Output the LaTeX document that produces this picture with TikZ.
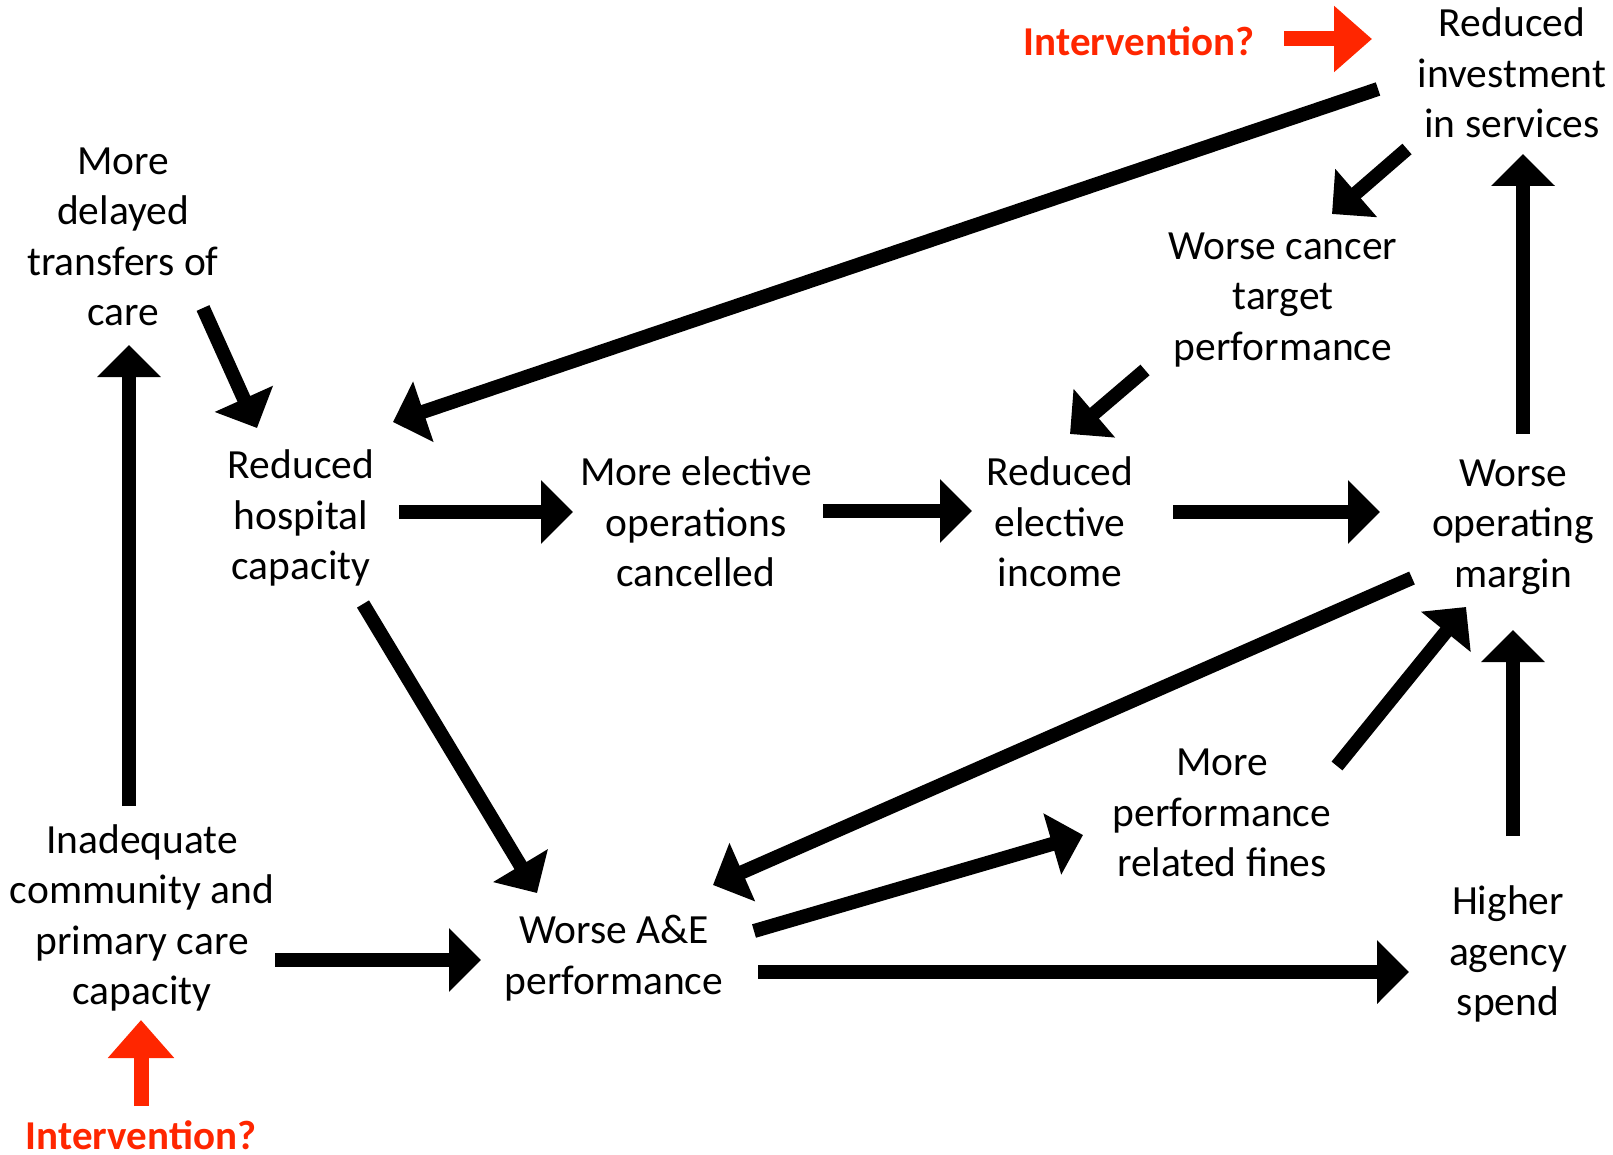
\documentclass[tikz,border=0pt]{standalone}
\usepackage{fontspec}
\setmainfont{Carlito}
\usetikzlibrary{arrows.meta}
\definecolor{intred}{RGB}{255,38,0}
\begin{document}
\begin{tikzpicture}[x=1pt,y=-1pt,
  lbl/.style={align=center,inner sep=0pt,font=\fontsize{41.5}{50.5}\selectfont},
  ilbl/.style={inner sep=0pt,text=intred,font=\fontsize{41}{50.5}\selectfont\bfseries},
  arr/.style={line width=14pt,-{Triangle[length=32pt,width=62pt]}},
  rarr/.style={line width=15pt,draw=intred,-{Triangle[length=38pt,width=64pt]}}]
\useasboundingbox (0,0) rectangle (1613,1155);
% nodes
\node[lbl] (inv) at (1512,73) {Reduced\\investment\\in services};
\node[lbl] (dtoc) at (123,237) {More\\delayed\\transfers of\\care};
\node[lbl] (cancer) at (1283,300) {Worse cancer\\target\\performance};
\node[lbl] (hosp) at (301,518) {Reduced\\hospital\\capacity};
\node[lbl] (elec) at (696,522) {More elective\\operations\\cancelled};
\node[lbl] (income) at (1060,522) {Reduced\\elective\\income};
\node[lbl] (margin) at (1513,527) {Worse\\operating\\margin};
\node[lbl] (fines) at (1222,813) {More\\performance\\related fines};
\node[lbl] (comm) at (142,918) {Inadequate\\community and\\primary care\\capacity};
\node[lbl] (ae) at (614,958) {Worse A\&E\\performance};
\node[lbl] (agency) at (1508,954) {Higher\\agency\\spend};
\node[ilbl] (int1) at (1139,41) {Intervention?};
\node[ilbl] (int2) at (141,1135) {Intervention?};
% connector end points
\coordinate (dtoc-o) at (203,308);   \coordinate (hosp-i1) at (257,428);
\coordinate (comm-o1) at (129,806);  \coordinate (dtoc-i) at (129,345);
\coordinate (inv-o1) at (1378,89);   \coordinate (hosp-i2) at (393,422);
\coordinate (inv-o2) at (1407,149);  \coordinate (cancer-i) at (1332,214);
\coordinate (cancer-o) at (1145,370);\coordinate (income-i1) at (1070,434);
\coordinate (margin-o1) at (1523,434);\coordinate (inv-i) at (1523,154);
\coordinate (hosp-o1) at (399,512);  \coordinate (elec-i) at (573,512);
\coordinate (elec-o) at (823,511);   \coordinate (income-i2) at (972,511);
\coordinate (income-o) at (1173,512);\coordinate (margin-i1) at (1380,512);
\coordinate (hosp-o2) at (363,604);  \coordinate (ae-i1) at (537,893);
\coordinate (margin-o2) at (1412,578);\coordinate (ae-i2) at (713,885);
\coordinate (fines-o) at (1337,766); \coordinate (margin-i2) at (1466,607);
\coordinate (agency-o) at (1513,836);\coordinate (margin-i3) at (1513,630);
\coordinate (ae-o1) at (754,931);    \coordinate (fines-i) at (1083,835);
\coordinate (ae-o2) at (758,972);    \coordinate (agency-i) at (1409,972);
\coordinate (comm-o2) at (275,960);  \coordinate (ae-i3) at (481,960);
\coordinate (int1-o) at (1284,39);   \coordinate (inv-i2) at (1372,39);
\coordinate (int2-o) at (141,1106);  \coordinate (comm-i) at (141,1020);
% connectors
\draw[arr] (dtoc-o) -- (hosp-i1);
\draw[arr] (comm-o1) -- (dtoc-i);
\draw[arr] (inv-o1) -- (hosp-i2);
\draw[arr] (inv-o2) -- (cancer-i);
\draw[arr] (cancer-o) -- (income-i1);
\draw[arr] (margin-o1) -- (inv-i);
\draw[arr] (hosp-o1) -- (elec-i);
\draw[arr] (elec-o) -- (income-i2);
\draw[arr] (income-o) -- (margin-i1);
\draw[arr] (hosp-o2) -- (ae-i1);
\draw[arr] (margin-o2) -- (ae-i2);
\draw[arr] (fines-o) -- (margin-i2);
\draw[arr] (agency-o) -- (margin-i3);
\draw[arr] (ae-o1) -- (fines-i);
\draw[arr] (ae-o2) -- (agency-i);
\draw[arr] (comm-o2) -- (ae-i3);
\draw[rarr] (int1-o) -- (inv-i2);
\draw[rarr] (int2-o) -- (comm-i);
\end{tikzpicture}
\end{document}
